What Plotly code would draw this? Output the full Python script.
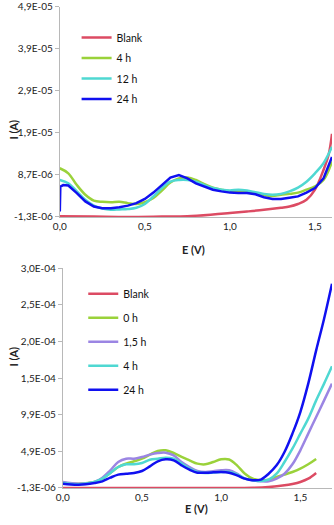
import plotly.graph_objects as go

# ---- top panel: E (V) vs I (A) ----
top_blank_e = [0.0, 0.2, 0.4, 0.6, 0.75, 0.9, 1.0, 1.1, 1.2, 1.3, 1.35, 1.4, 1.45, 1.5, 1.55, 1.58, 1.6]
top_blank_i = [-1.1e-6, -1.2e-6, -1.3e-6, -1.2e-6, -1.1e-6, -0.7e-6, -0.35e-6, 0.0, 0.4e-6, 0.9e-6, 1.2e-6, 1.8e-6, 2.8e-6, 5.2e-6, 9.9e-6, 13.5e-6, 18.5e-6]

top_e = [0.0, 0.05, 0.1, 0.15, 0.2, 0.25, 0.3, 0.35, 0.4, 0.45, 0.5, 0.55, 0.6, 0.65, 0.7, 0.75,
         0.8, 0.85, 0.9, 0.95, 1.0, 1.05, 1.1, 1.15, 1.2, 1.25, 1.3, 1.35, 1.4, 1.45, 1.5, 1.55, 1.6]
top_4h = [10.3e-6, 9.1e-6, 6.3e-6, 4.0e-6, 2.6e-6, 2.3e-6, 2.2e-6, 2.3e-6, 2.0e-6, 1.8e-6, 2.2e-6, 3.2e-6,
          5.0e-6, 6.9e-6, 7.9e-6, 8.1e-6, 7.5e-6, 6.5e-6, 5.7e-6, 5.2e-6, 4.8e-6, 4.7e-6, 4.6e-6, 4.4e-6,
          4.0e-6, 3.7e-6, 4.0e-6, 4.2e-6, 4.5e-6, 5.2e-6, 6.0e-6, 7.5e-6, 11.9e-6]
top_12h = [7.5e-6, 6.7e-6, 4.8e-6, 2.8e-6, 1.4e-6, 0.7e-6, 0.4e-6, 0.5e-6, 0.6e-6, 0.9e-6, 1.8e-6, 3.6e-6,
           5.6e-6, 7.1e-6, 7.5e-6, 7.5e-6, 7.1e-6, 6.3e-6, 5.6e-6, 5.2e-6, 5.0e-6, 5.2e-6, 5.0e-6, 4.6e-6,
           4.2e-6, 4.0e-6, 4.2e-6, 4.8e-6, 5.7e-6, 7.1e-6, 9.1e-6, 11.5e-6, 15.4e-6]
top_24h_e = [0.0, 0.003, 0.02] + top_e[1:]
top_24h = [0.0, 5.9e-6, 6.3e-6, 6.2e-6, 4.4e-6, 2.4e-6, 1.2e-6, 0.8e-6, 0.8e-6, 1.0e-6, 1.4e-6, 2.0e-6,
           3.0e-6, 4.5e-6, 6.3e-6, 8.1e-6, 8.7e-6, 7.9e-6, 6.7e-6, 5.9e-6, 5.2e-6, 4.8e-6, 4.5e-6, 4.4e-6,
           4.4e-6, 4.1e-6, 3.4e-6, 3.0e-6, 3.0e-6, 3.3e-6, 3.6e-6, 4.5e-6, 5.6e-6, 7.9e-6, 13.0e-6]

top_ticks = [-1.3e-6, 8.7e-6, 1.87e-5, 2.87e-5, 3.87e-5, 4.87e-5]
top_ticktext = ["-1,3E-06", "8,7E-06", "1,9E-05", "2,9E-05", "3,9E-05", "4,9E-05"]

# ---- bottom panel ----
bot_blank_e = [0.0, 0.3, 0.6, 0.9, 1.2, 1.3, 1.4, 1.45, 1.5, 1.55, 1.6]
bot_blank_i = [-1.3e-6, -1.3e-6, -1.3e-6, -1.3e-6, -1.0e-6, 0.0, 2.3e-6, 4.2e-6, 6.9e-6, 11.4e-6, 19.2e-6]

bot_e = [0.0, 0.1, 0.2, 0.25, 0.3, 0.35, 0.4, 0.45, 0.5, 0.55, 0.6, 0.65, 0.7, 0.75, 0.8, 0.85,
         0.9, 0.95, 1.0, 1.05, 1.1, 1.15, 1.2, 1.25, 1.3, 1.35, 1.4, 1.45, 1.5, 1.55, 1.6, 1.65, 1.7]
bot_0h = [5.5e-6, 4.6e-6, 6.9e-6, 11.4e-6, 19.2e-6, 27.3e-6, 31.9e-6, 35.1e-6, 38.7e-6, 44.2e-6, 49.2e-6,
          50.1e-6, 46.4e-6, 41.0e-6, 36.4e-6, 31.9e-6, 31.0e-6, 34.1e-6, 37.8e-6, 37.5e-6, 29.6e-6,
          18.2e-6, 11.4e-6, 9.2e-6, 10.1e-6, 13.7e-6, 16.9e-6, 20.5e-6, 25.1e-6, 31.0e-6, 38.2e-6]
bot_1_5h = [6.9e-6, 4.6e-6, 6.9e-6, 12.8e-6, 22.8e-6, 34.2e-6, 38.7e-6, 38.7e-6, 41.0e-6, 44.2e-6, 46.4e-6,
            46.9e-6, 43.2e-6, 34.1e-6, 27.3e-6, 21.9e-6, 20.5e-6, 21.5e-6, 22.8e-6, 22.8e-6, 18.2e-6,
            11.4e-6, 9.2e-6, 7.8e-6, 7.8e-6, 11.4e-6, 18.2e-6, 31.0e-6, 50.1e-6, 72.8e-6, 95.5e-6,
            118.2e-6, 141.0e-6]
bot_4h = [5.5e-6, 3.7e-6, 6.9e-6, 11.4e-6, 19.2e-6, 27.3e-6, 31.0e-6, 31.0e-6, 32.8e-6, 37.3e-6, 38.7e-6,
          40.1e-6, 38.7e-6, 31.9e-6, 25.1e-6, 20.5e-6, 19.2e-6, 19.8e-6, 20.5e-6, 20.5e-6, 17.3e-6,
          11.4e-6, 9.2e-6, 8.2e-6, 10.1e-6, 18.2e-6, 34.1e-6, 52.3e-6, 72.8e-6, 93.3e-6, 118.2e-6,
          141.0e-6, 164.6e-6]
bot_24h = [4.6e-6, 3.2e-6, 5.5e-6, 7.8e-6, 12.8e-6, 16.9e-6, 18.2e-6, 19.2e-6, 21.9e-6, 28.2e-6, 35.1e-6,
           37.8e-6, 36.4e-6, 29.6e-6, 23.7e-6, 19.6e-6, 19.6e-6, 20.0e-6, 20.5e-6, 19.6e-6, 16.0e-6,
           11.4e-6, 9.2e-6, 10.1e-6, 18.2e-6, 29.6e-6, 47.8e-6, 72.8e-6, 102.3e-6, 141.0e-6, 186.4e-6,
           229.6e-6, 277.3e-6]

bot_ticks = [-1.3e-6, 4.87e-5, 9.87e-5, 1.487e-4, 1.987e-4, 2.487e-4, 2.987e-4]
bot_ticktext = ["-1,3E-06", "4,9E-05", "9,9E-05", "1,5E-04", "2,0E-04", "2,5E-04", "3,0E-04"]

x_ticks = [0.0, 0.5, 1.0, 1.5]
x_ticktext = ["0,0", "0,5", "1,0", "1,5"]

RED = "#dc4b63"
GREEN = "#9ad23a"
CYAN = "#4fd8d2"
BLUE = "#1010f0"
PURPLE = "#9b85e3"

fig = go.Figure()

top_series = [("Blank", top_blank_e, top_blank_i, RED), ("4 h", top_e, top_4h, GREEN),
              ("12 h", top_e, top_12h, CYAN), ("24 h", top_24h_e, top_24h, BLUE)]
for i, (name, ex, iy, col) in enumerate(top_series):
    fig.add_trace(go.Scatter(x=ex, y=iy, mode="lines", name=name, line=dict(color=col, width=2.5),
                             line_shape="spline" if name != "24 h" else "linear",
                             legend="legend", legendgroup="t%d" % i, xaxis="x", yaxis="y"))

bot_series = [("Blank", bot_blank_e, bot_blank_i, RED), ("0 h", bot_e[:len(bot_0h)], bot_0h, GREEN),
              ("1,5 h", bot_e, bot_1_5h, PURPLE), ("4 h", bot_e, bot_4h, CYAN),
              ("24 h", bot_e, bot_24h, BLUE)]
for i, (name, ex, iy, col) in enumerate(bot_series):
    fig.add_trace(go.Scatter(x=ex, y=iy, mode="lines", name=name, line=dict(color=col, width=2.5),
                             line_shape="spline", legend="legend2", legendgroup="b%d" % i,
                             xaxis="x2", yaxis="y2"))

font = dict(family="Lato", size=10, color="#222")
axis_common = dict(showgrid=False, zeroline=False, showline=True, linecolor="#b8b8b8", linewidth=1,
                   tickfont=font, automargin=False, fixedrange=True)

fig.update_layout(
    width=334, height=525,
    margin=dict(l=0, r=1, t=0, b=0),
    paper_bgcolor="white", plot_bgcolor="white",
    font=font,
    xaxis=dict(domain=[0.1796, 0.997], range=[0, 1.6], tickvals=x_ticks, ticktext=x_ticktext,
               ticks="", anchor="y", **axis_common),
    yaxis=dict(domain=[0.5867, 0.9867], range=[-1.3e-6, 4.87e-5], tickvals=top_ticks,
               ticktext=top_ticktext, ticks="outside", ticklen=4, tickcolor="#b8b8b8", anchor="x",
               **axis_common),
    xaxis2=dict(domain=[0.1886, 0.997], range=[0, 1.7], tickvals=x_ticks, ticktext=x_ticktext,
                ticks="", anchor="y2", **axis_common),
    yaxis2=dict(domain=[0.0705, 0.4895], range=[-1.3e-6, 2.987e-4], tickvals=bot_ticks,
                ticktext=bot_ticktext, ticks="outside", ticklen=4, tickcolor="#b8b8b8", anchor="x2",
                **axis_common),
    legend=dict(x=0.23, y=0.956, xanchor="left", yanchor="top", traceorder="grouped",
                tracegroupgap=1.5, font=dict(family="Lato", size=10.5, color="#111"),
                bgcolor="rgba(0,0,0,0)", itemwidth=30),
    legend2=dict(x=0.25, y=0.468, xanchor="left", yanchor="top", traceorder="grouped",
                 tracegroupgap=5, font=dict(family="Lato", size=10.5, color="#111"),
                 bgcolor="rgba(0,0,0,0)", itemwidth=30),
    annotations=[
        dict(text="<b>E (V)</b>", x=0.58, y=(525 - 249) / 525, xref="paper", yref="paper",
             showarrow=False, font=dict(family="Lato", size=11, color="#222")),
        dict(text="<b>I (A)</b>", x=0.015, y=(525 - 117) / 525, xref="paper", yref="paper",
             showarrow=False, textangle=-90, font=dict(family="Lato", size=11, color="#222")),
        dict(text="<b>E (V)</b>", x=0.59, y=(525 - 517) / 525, xref="paper", yref="paper",
             showarrow=False, font=dict(family="Lato", size=11, color="#222")),
        dict(text="<b>I (A)</b>", x=0.015, y=(525 - 368) / 525, xref="paper", yref="paper",
             showarrow=False, textangle=-90, font=dict(family="Lato", size=11, color="#222")),
    ],
)

fig.write_html("out.html", config=dict(displayModeBar=False),
               post_script="document.body.style.margin='0';document.body.style.overflow='hidden';")
